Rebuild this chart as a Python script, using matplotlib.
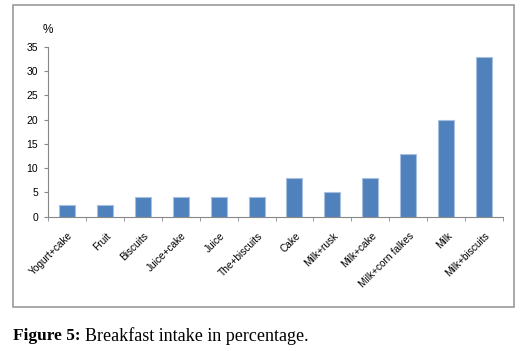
import matplotlib

matplotlib.use('Agg')
import matplotlib.pyplot as plt
from matplotlib.patches import Rectangle
import numpy as np

# data
categories = ['Yogurt+cake', 'Fruit', 'Biscuits', 'Juice+cake', 'Juice', 'The+biscuits',
              'Cake', 'Milk+rusk', 'Milk+cake', 'Milk+corn falkes', 'Milk', 'Milk+biscuits']
percent = [2.5, 2.5, 4, 4, 4, 4, 8, 5, 8, 13, 20, 33]
yticks = [0, 5, 10, 15, 20, 25, 30, 35]

fig = plt.figure(figsize=(5.28, 3.51), dpi=100)
ax = fig.add_axes([48 / 528, 1 - 216.7 / 351, (503 - 48) / 528, (216.7 - 47) / 351])

x = np.arange(len(categories))
ax.bar(x, percent, width=0.42, color='#4F81BD', edgecolor='#a7c0e0', linewidth=0.8)

ax.set_xlim(-0.5, len(categories) - 0.5)
ax.set_ylim(0, 35)
ax.set_yticks(yticks)
ax.set_yticklabels([str(t) for t in yticks], fontsize=7.5, family='Liberation Sans')
ax.tick_params(axis='y', length=3, color='#888888', pad=4)

# category ticks sit on the boundaries
ax.set_xticks(x + 0.02)
ax.set_xticklabels(categories, rotation=45, ha='right', rotation_mode='anchor',
                   fontsize=7.3, family='Liberation Sans')
ax.tick_params(axis='x', which='major', length=0, pad=10)
ax.set_xticks(np.arange(len(categories) + 1) - 0.5, minor=True)
ax.tick_params(axis='x', which='minor', length=3, color='#888888')

for s in ['top', 'right']:
    ax.spines[s].set_visible(False)
for s in ['left', 'bottom']:
    ax.spines[s].set_color('#888888')
    ax.spines[s].set_linewidth(0.8)

fig.text(48 / 528, 1 - 30 / 351, '%', fontsize=8.5, family='Liberation Sans', ha='center', va='center')

# outer frame around the chart
fig.patches.append(Rectangle((13 / 528, 1 - 307 / 351), (514 - 13) / 528, (307 - 5) / 351,
                             transform=fig.transFigure, fill=False, edgecolor='#999999',
                             linewidth=1.2))

fig.text(13 / 528, 1 - 336 / 351, 'Figure 5:', fontsize=12.5, family='Liberation Serif',
         weight='bold', ha='left', va='center')
fig.text(85 / 528, 1 - 336 / 351, 'Breakfast intake in percentage.', fontsize=13,
         family='Liberation Serif', ha='left', va='center')

fig.savefig('out.png', dpi=100)
